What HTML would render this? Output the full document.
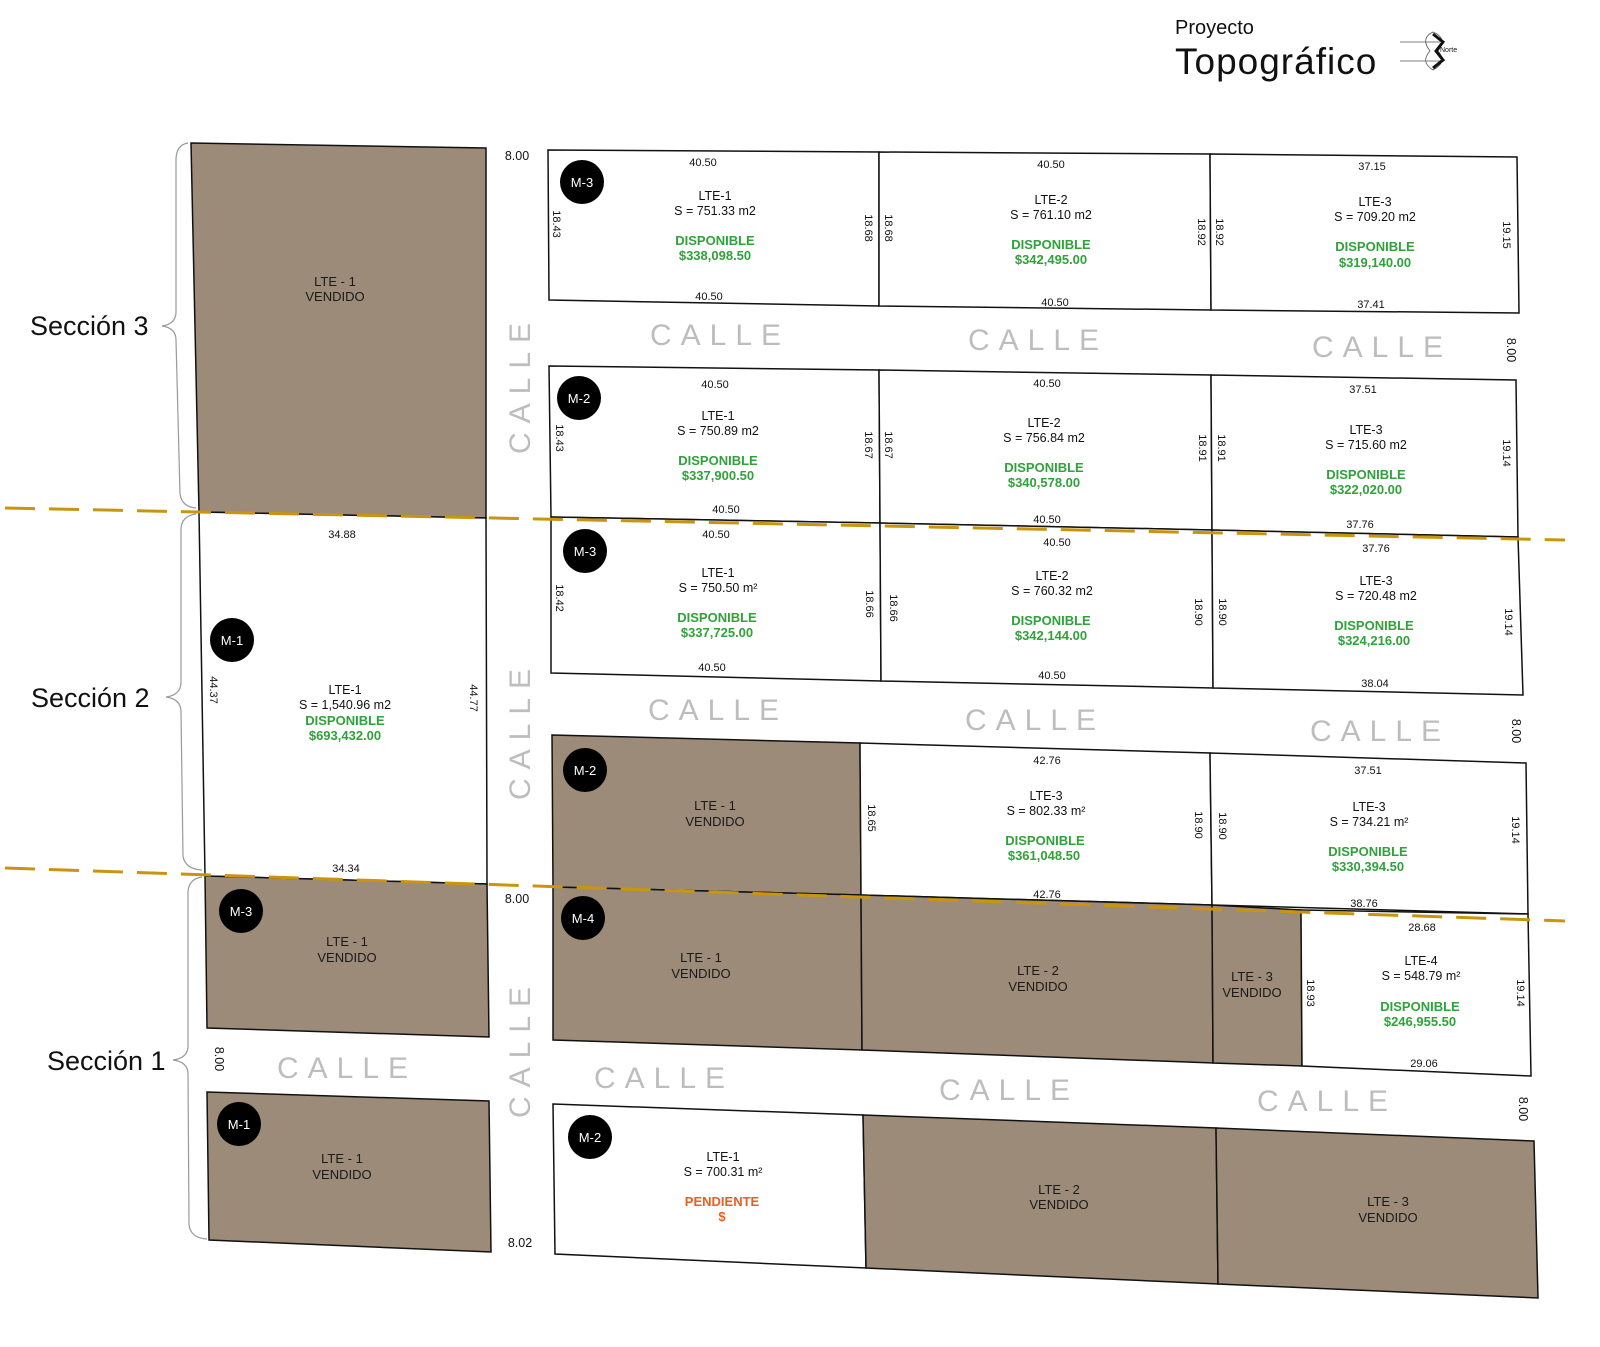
<!DOCTYPE html>
<html><head><meta charset="utf-8"><style>
html,body{margin:0;padding:0;background:#fff;}
svg{display:block;font-family:"Liberation Sans",sans-serif;}
.b{fill:#9c8b78;stroke:#111;stroke-width:1.5}
.w{fill:#fff;stroke:#111;stroke-width:1.5}
.d{font-size:11px;fill:#111;text-anchor:middle}
.l{font-size:12.5px;fill:#111;text-anchor:middle}
.g{font-size:13px;font-weight:bold;fill:#2fa23a;text-anchor:middle}
.o{font-size:13px;font-weight:bold;fill:#e8601c;text-anchor:middle}
.v{font-size:13px;fill:#1a1a1a;text-anchor:middle}
.c{font-size:30px;fill:#bdbdbd;letter-spacing:9px;text-anchor:middle}
.m{font-size:13px;fill:#fff;text-anchor:middle}
.s{font-size:27px;fill:#111}
.br{fill:none;stroke:#999;stroke-width:1.2}
.dash{stroke:#c9950f;stroke-width:3;stroke-dasharray:30 14}
</style></head><body>
<svg width="1600" height="1347" viewBox="0 0 1600 1347">
<!-- header -->
<text x="1175" y="34" font-size="20" fill="#111">Proyecto</text>
<text x="1175" y="74" font-size="37" fill="#111" letter-spacing="1">Topográfico</text>
<g stroke="#555" stroke-width="0.8" fill="none">
<line x1="1400" y1="42" x2="1440" y2="42"/><line x1="1400" y1="61" x2="1440" y2="61"/>
<path d="M1433 32 Q1420 38 1430 51 Q1420 62 1433 70 Q1448 62 1438 51 Q1448 38 1433 32Z"/>
</g>
<path d="M1433 34 L1443 42 L1436 51 L1443 60 L1433 68" stroke="#111" stroke-width="3" fill="none"/>
<text x="1440" y="52" font-size="7" fill="#111">Norte</text>

<!-- left column -->
<polygon class="b" points="191,143 486,148 486,518 199,512"/>
<polygon class="w" points="199,512 486,518 487,884 205,876"/>
<polygon class="b" points="205,876 487,884 489,1037 207,1028"/>
<polygon class="b" points="207,1092 489,1101 491,1252 209,1240"/>

<!-- sec3 M-3 row -->
<polygon class="w" points="548,150 879,152 879,306 549,300"/>
<polygon class="w" points="879,152 1210,154 1211,310 879,306"/>
<polygon class="w" points="1210,154 1517,157 1519,313 1211,310"/>
<!-- sec3 M-2 row -->
<polygon class="w" points="549,366 879,370 880,523 551,517"/>
<polygon class="w" points="879,370 1211,375 1212,530 880,523"/>
<polygon class="w" points="1211,375 1516,380 1518,537 1212,530"/>
<!-- sec2 M-3 row -->
<polygon class="w" points="551,517 880,523 881,681 551,673"/>
<polygon class="w" points="880,523 1212,530 1213,688 881,681"/>
<polygon class="w" points="1212,530 1518,537 1523,695 1213,688"/>
<!-- sec2 M-2 row -->
<polygon class="b" points="552,735 860,743 861,895 553,887"/>
<polygon class="w" points="860,743 1210,753 1212,905 861,895"/>
<polygon class="w" points="1210,753 1526,763 1528,914 1212,905"/>
<!-- M-4 row -->
<polygon class="b" points="553,887 861,895 862,1050 553,1040"/>
<polygon class="b" points="861,895 1212,905 1213,1063 862,1050"/>
<polygon class="b" points="1212,905 1301,910 1302,1066 1213,1063"/>
<polygon class="w" points="1301,910 1528,914 1531,1076 1302,1066"/>
<!-- sec1 M-2 row -->
<polygon class="w" points="553,1104 863,1115 866,1268 555,1254"/>
<polygon class="b" points="863,1115 1216,1128 1218,1284 866,1268"/>
<polygon class="b" points="1216,1128 1534,1141 1538,1298 1218,1284"/>

<!-- dashed lines -->
<line class="dash" x1="5" y1="508" x2="1565" y2="540"/>
<line class="dash" x1="5" y1="868" x2="1565" y2="921"/>

<!-- braces -->
<path class="br" d="M188 143 Q176 145 176 160 L176 312 Q176 324 162 326 Q176 328 176 340 L180 494 Q182 507 196 508"/>
<path class="br" d="M196 514 Q181 516 181 530 L181 682 Q181 695 166 697 Q181 699 181 712 L183 856 Q185 869 202 870"/>
<path class="br" d="M202 877 Q188 879 188 893 L188 1046 Q188 1058 173 1060 Q188 1062 188 1074 L189 1224 Q190 1238 207 1239"/>
<text class="s" x="30" y="335">Sección 3</text>
<text class="s" x="31" y="707">Sección 2</text>
<text class="s" x="47" y="1070">Sección 1</text>

<!-- CALLE labels -->
<text class="c" x="720" y="345">CALLE</text>
<text class="c" x="1038" y="350">CALLE</text>
<text class="c" x="1382" y="357">CALLE</text>
<text class="c" x="718" y="720">CALLE</text>
<text class="c" x="1035" y="730">CALLE</text>
<text class="c" x="1380" y="741">CALLE</text>
<text class="c" x="664" y="1088">CALLE</text>
<text class="c" x="1009" y="1100">CALLE</text>
<text class="c" x="1327" y="1111">CALLE</text>
<text class="c" x="347" y="1078">CALLE</text>
<text class="c" transform="translate(530,384) rotate(-90)">CALLE</text>
<text class="c" transform="translate(530,730) rotate(-90)">CALLE</text>
<text class="c" transform="translate(530,1048) rotate(-90)">CALLE</text>

<!-- 8.00 labels -->
<text class="l" x="517" y="160">8.00</text>
<text class="l" x="517" y="903">8.00</text>
<text class="l" x="520" y="1247">8.02</text>
<text class="l" transform="translate(1507,350) rotate(90)">8.00</text>
<text class="l" transform="translate(1512,731) rotate(90)">8.00</text>
<text class="l" transform="translate(1519,1109) rotate(90)">8.00</text>
<text class="l" transform="translate(215,1059) rotate(90)">8.00</text>

<!-- circles -->
<g>
<circle cx="582" cy="182" r="22"/><text class="m" x="582" y="187">M-3</text>
<circle cx="579" cy="398" r="22"/><text class="m" x="579" y="403">M-2</text>
<circle cx="585" cy="551" r="22"/><text class="m" x="585" y="556">M-3</text>
<circle cx="585" cy="770" r="22"/><text class="m" x="585" y="775">M-2</text>
<circle cx="583" cy="918" r="22"/><text class="m" x="583" y="923">M-4</text>
<circle cx="590" cy="1137" r="22"/><text class="m" x="590" y="1142">M-2</text>
<circle cx="232" cy="640" r="22"/><text class="m" x="232" y="645">M-1</text>
<circle cx="241" cy="911" r="22"/><text class="m" x="241" y="916">M-3</text>
<circle cx="239" cy="1124" r="22"/><text class="m" x="239" y="1129">M-1</text>
</g>

<!-- left texts -->
<text class="v" x="335" y="286">LTE - 1</text><text class="v" x="335" y="301">VENDIDO</text>
<text class="d" x="342" y="538">34.88</text>
<text class="d" transform="translate(210,690) rotate(90)">44.37</text>
<text class="d" transform="translate(470,698) rotate(90)">44.77</text>
<text class="l" x="345" y="694">LTE-1</text>
<text class="l" x="345" y="709">S = 1,540.96 m2</text>
<text class="g" x="345" y="725">DISPONIBLE</text>
<text class="g" x="345" y="740">$693,432.00</text>
<text class="d" x="346" y="872">34.34</text>
<text class="v" x="347" y="946">LTE - 1</text><text class="v" x="347" y="962">VENDIDO</text>
<text class="v" x="342" y="1163">LTE - 1</text><text class="v" x="342" y="1179">VENDIDO</text>

<!-- sec3 M-3 -->
<text class="d" x="703" y="166">40.50</text>
<text class="l" x="715" y="200">LTE-1</text><text class="l" x="715" y="215">S = 751.33 m2</text>
<text class="g" x="715" y="245">DISPONIBLE</text><text class="g" x="715" y="260">$338,098.50</text>
<text class="d" x="709" y="300">40.50</text>
<text class="d" transform="translate(553,224) rotate(90)">18.43</text>
<text class="d" transform="translate(865,228) rotate(90)">18.68</text>
<text class="d" transform="translate(885,228) rotate(90)">18.68</text>
<text class="d" transform="translate(1198,232) rotate(90)">18.92</text>
<text class="d" transform="translate(1216,232) rotate(90)">18.92</text>
<text class="d" transform="translate(1503,235) rotate(90)">19.15</text>
<text class="d" x="1051" y="168">40.50</text>
<text class="l" x="1051" y="204">LTE-2</text><text class="l" x="1051" y="219">S = 761.10 m2</text>
<text class="g" x="1051" y="249">DISPONIBLE</text><text class="g" x="1051" y="264">$342,495.00</text>
<text class="d" x="1055" y="306">40.50</text>
<text class="d" x="1372" y="170">37.15</text>
<text class="l" x="1375" y="206">LTE-3</text><text class="l" x="1375" y="221">S = 709.20 m2</text>
<text class="g" x="1375" y="251">DISPONIBLE</text><text class="g" x="1375" y="267">$319,140.00</text>
<text class="d" x="1371" y="308">37.41</text>

<!-- sec3 M-2 -->
<text class="d" x="715" y="388">40.50</text>
<text class="l" x="718" y="420">LTE-1</text><text class="l" x="718" y="435">S = 750.89 m2</text>
<text class="g" x="718" y="465">DISPONIBLE</text><text class="g" x="718" y="480">$337,900.50</text>
<text class="d" x="726" y="513">40.50</text>
<text class="d" transform="translate(556,438) rotate(90)">18.43</text>
<text class="d" transform="translate(865,445) rotate(90)">18.67</text>
<text class="d" transform="translate(885,445) rotate(90)">18.67</text>
<text class="d" transform="translate(1199,448) rotate(90)">18.91</text>
<text class="d" transform="translate(1218,448) rotate(90)">18.91</text>
<text class="d" transform="translate(1503,453) rotate(90)">19.14</text>
<text class="d" x="1047" y="387">40.50</text>
<text class="l" x="1044" y="427">LTE-2</text><text class="l" x="1044" y="442">S = 756.84 m2</text>
<text class="g" x="1044" y="472">DISPONIBLE</text><text class="g" x="1044" y="487">$340,578.00</text>
<text class="d" x="1047" y="523">40.50</text>
<text class="d" x="1363" y="393">37.51</text>
<text class="l" x="1366" y="434">LTE-3</text><text class="l" x="1366" y="449">S = 715.60 m2</text>
<text class="g" x="1366" y="479">DISPONIBLE</text><text class="g" x="1366" y="494">$322,020.00</text>
<text class="d" x="1360" y="528">37.76</text>

<!-- sec2 M-3 -->
<text class="d" x="716" y="538">40.50</text>
<text class="l" x="718" y="577">LTE-1</text><text class="l" x="718" y="592">S = 750.50 m²</text>
<text class="g" x="717" y="622">DISPONIBLE</text><text class="g" x="717" y="637">$337,725.00</text>
<text class="d" x="712" y="671">40.50</text>
<text class="d" transform="translate(556,598) rotate(90)">18.42</text>
<text class="d" transform="translate(866,604) rotate(90)">18.66</text>
<text class="d" transform="translate(890,608) rotate(90)">18.66</text>
<text class="d" transform="translate(1195,612) rotate(90)">18.90</text>
<text class="d" transform="translate(1219,612) rotate(90)">18.90</text>
<text class="d" transform="translate(1505,622) rotate(90)">19.14</text>
<text class="d" x="1057" y="546">40.50</text>
<text class="l" x="1052" y="580">LTE-2</text><text class="l" x="1052" y="595">S = 760.32 m2</text>
<text class="g" x="1051" y="625">DISPONIBLE</text><text class="g" x="1051" y="640">$342,144.00</text>
<text class="d" x="1052" y="679">40.50</text>
<text class="d" x="1376" y="552">37.76</text>
<text class="l" x="1376" y="585">LTE-3</text><text class="l" x="1376" y="600">S = 720.48 m2</text>
<text class="g" x="1374" y="630">DISPONIBLE</text><text class="g" x="1374" y="645">$324,216.00</text>
<text class="d" x="1375" y="687">38.04</text>

<!-- sec2 M-2 -->
<text class="v" x="715" y="810">LTE - 1</text><text class="v" x="715" y="826">VENDIDO</text>
<text class="d" transform="translate(868,818) rotate(90)">18.65</text>
<text class="d" x="1047" y="764">42.76</text>
<text class="l" x="1046" y="800">LTE-3</text><text class="l" x="1046" y="815">S = 802.33 m²</text>
<text class="g" x="1045" y="845">DISPONIBLE</text><text class="g" x="1044" y="860">$361,048.50</text>
<text class="d" x="1047" y="898">42.76</text>
<text class="d" transform="translate(1195,825) rotate(90)">18.90</text>
<text class="d" transform="translate(1219,826) rotate(90)">18.90</text>
<text class="d" x="1368" y="774">37.51</text>
<text class="l" x="1369" y="811">LTE-3</text><text class="l" x="1369" y="826">S = 734.21 m²</text>
<text class="g" x="1368" y="856">DISPONIBLE</text><text class="g" x="1368" y="871">$330,394.50</text>
<text class="d" x="1364" y="907">38.76</text>
<text class="d" transform="translate(1512,830) rotate(90)">19.14</text>

<!-- M-4 -->
<text class="v" x="701" y="962">LTE - 1</text><text class="v" x="701" y="978">VENDIDO</text>
<text class="v" x="1038" y="975">LTE - 2</text><text class="v" x="1038" y="991">VENDIDO</text>
<text class="v" x="1252" y="981">LTE - 3</text><text class="v" x="1252" y="997">VENDIDO</text>
<text class="d" x="1422" y="931">28.68</text>
<text class="l" x="1421" y="965">LTE-4</text><text class="l" x="1421" y="980">S = 548.79 m²</text>
<text class="g" x="1420" y="1011">DISPONIBLE</text><text class="g" x="1420" y="1026">$246,955.50</text>
<text class="d" x="1424" y="1067">29.06</text>
<text class="d" transform="translate(1307,993) rotate(90)">18.93</text>
<text class="d" transform="translate(1517,993) rotate(90)">19.14</text>

<!-- sec1 M-2 -->
<text class="l" x="723" y="1161">LTE-1</text><text class="l" x="723" y="1176">S = 700.31 m²</text>
<text class="o" x="722" y="1206">PENDIENTE</text><text class="o" x="722" y="1221">$</text>
<text class="v" x="1059" y="1194">LTE - 2</text><text class="v" x="1059" y="1209">VENDIDO</text>
<text class="v" x="1388" y="1206">LTE - 3</text><text class="v" x="1388" y="1222">VENDIDO</text>
</svg>
</body></html>
